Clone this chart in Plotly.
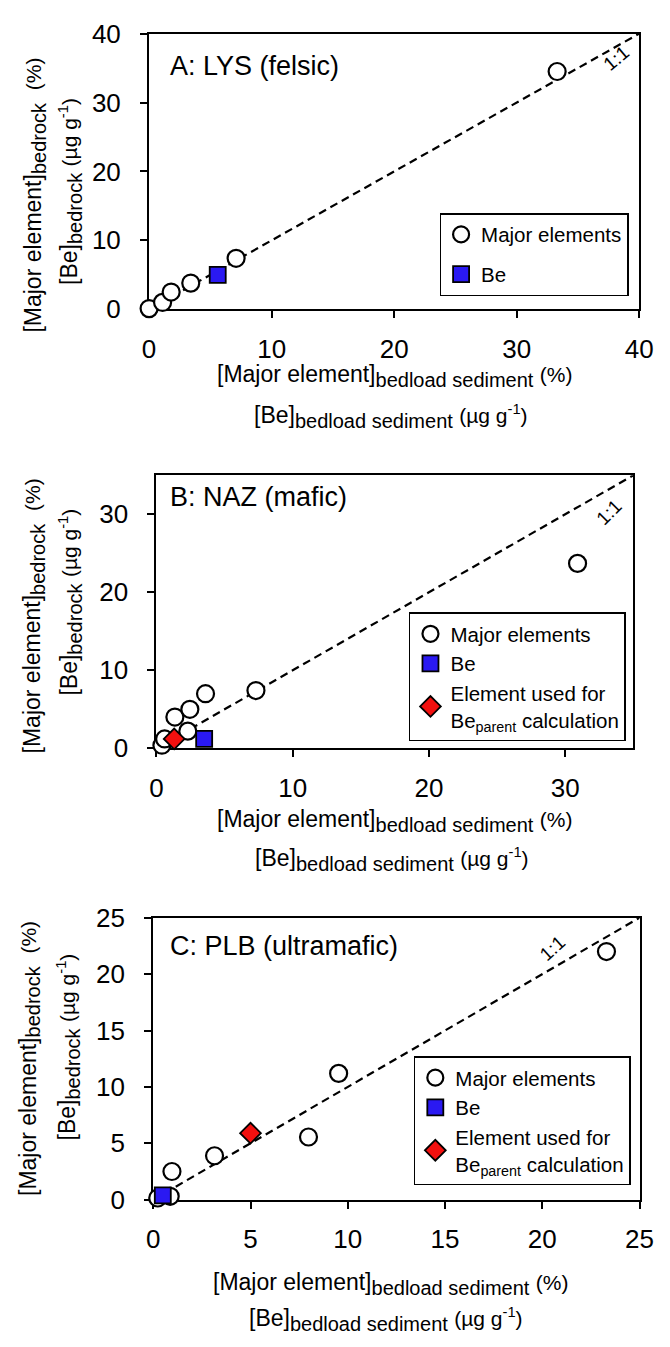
import plotly.graph_objects as go

W, H = 670, 1347
FONT = "Liberation Sans, Arial, sans-serif"

# ---------------- data ----------------
panel_titles = ["A: LYS (felsic)", "B: NAZ (mafic)", "C: PLB (ultramafic)"]

a_major_x = [0.0, 1.1, 1.8, 3.4, 7.1, 33.3]
a_major_y = [0.1, 1.0, 2.5, 3.8, 7.4, 34.5]
a_be_x = [5.6]
a_be_y = [5.0]

b_major_x = [0.4, 0.6, 1.35, 2.45, 2.3, 3.6, 7.3, 30.9]
b_major_y = [0.4, 1.2, 4.0, 5.0, 2.2, 7.0, 7.4, 23.7]
b_be_x = [3.5]
b_be_y = [1.2]
b_parent_x = [1.3]
b_parent_y = [1.2]

c_major_x = [0.23, 0.87, 0.96, 3.15, 7.98, 9.53, 23.3]
c_major_y = [0.15, 0.3, 2.5, 3.9, 5.56, 11.2, 22.0]
c_be_x = [0.49]
c_be_y = [0.38]
c_parent_x = [5.0]
c_parent_y = [5.9]

axis_max = [40, 35, 25]
tick_vals = [[0, 10, 20, 30, 40], [0, 10, 20, 30], [0, 5, 10, 15, 20, 25]]
one_to_one_label = "1:1"
one_to_one_pos = [(38.1, 36.4), (33.2, 30.2), (20.5, 22.3)]

legend_names = ["Major elements", "Be", "Element used for<br>Be<sub>parent</sub> calculation"]

# ---------------- layout helpers (pixel geometry) ----------------
def px(x):
    return x / W

def py(y):
    return 1 - y / H

# plot boxes: (left, right, top, bottom) in pixels
boxes = [(146.7, 652.7, 19, 301), (154.3, 646.7, 470.7, 750), (151, 653, 923.3, 1211.7)]
legend_pos = [(641.7, 287.5), (639, 743), (644, 1197)]
title_pos = [(166, 52), (166, 493), (166, 952)]
xt1_pos = [(400, 369), (400, 824), (396, 1298)]
xt2_pos = [(396, 411), (397, 864), (391, 1334)]
yt1_pos = [(28.6, 184), (28, 615), (23.5, 1067)]
yt2_pos = [(66, 180), (66, 600), (64, 1055)]
ang_1to1 = [-40, -45, -42]

BLUE = "#2a19f2"
RED = "#f2100f"

sub = lambda t: "<sub><span style='font-size:20px'>" + t + "</span></sub>"
xt1 = "[Major element]" + sub("bedload sediment") + " <span style='font-size:21px'>(%)</span>"
xt2 = "[Be]" + sub("bedload sediment") + " <span style='font-size:21px'>(µg g<sup>-1</sup>)</span>"
yt1 = "[Major element]" + sub("bedrock") + "&nbsp; <span style='font-size:21px'>(%)</span>"
yt2 = "[Be]" + sub("bedrock") + " <span style='font-size:21px'>(µg g<sup>-1</sup>)</span>"

fig = go.Figure()

panels = [
    (a_major_x, a_major_y, a_be_x, a_be_y, None, None),
    (b_major_x, b_major_y, b_be_x, b_be_y, b_parent_x, b_parent_y),
    (c_major_x, c_major_y, c_be_x, c_be_y, c_parent_x, c_parent_y),
]

annotations = []
layout = {}
for i, (mx, my, bx, by, dx, dy) in enumerate(panels):
    n = "" if i == 0 else str(i + 1)
    xa, ya = "x" + n, "y" + n
    lg = "legend" + n
    m = axis_max[i]
    # 1:1 line
    fig.add_trace(go.Scatter(x=[0, m], y=[0, m], mode="lines", xaxis=xa, yaxis=ya,
                             line=dict(color="black", width=2.2, dash="8px,5px"),
                             showlegend=False, hoverinfo="skip"))
    fig.add_trace(go.Scatter(x=mx, y=my, mode="markers", name=legend_names[0], xaxis=xa, yaxis=ya,
                             legend=lg, legendgroup="g1" + n, cliponaxis=False,
                             marker=dict(symbol="circle", size=17, color="white",
                                         line=dict(color="black", width=2.2))))
    fig.add_trace(go.Scatter(x=bx, y=by, mode="markers", name=legend_names[1], xaxis=xa, yaxis=ya,
                             legend=lg, legendgroup="g2" + n, cliponaxis=False,
                             marker=dict(symbol="square", size=16, color=BLUE,
                                         line=dict(color="black", width=1.8))))
    if dx is not None:
        fig.add_trace(go.Scatter(x=dx, y=dy, mode="markers", name=legend_names[2], xaxis=xa, yaxis=ya,
                                 legend=lg, legendgroup="g3" + n, cliponaxis=False,
                                 marker=dict(symbol="diamond", size=16, color=RED,
                                             line=dict(color="black", width=1.8))))
    l, r, t, b = boxes[i]
    common = dict(range=[0, m], tickvals=tick_vals[i], showline=True, linecolor="black", linewidth=2.2,
                  mirror=True, ticks="outside", ticklen=7, tickwidth=2, tickcolor="black",
                  showgrid=False, zeroline=False, layer="below traces",
                  tickfont=dict(family=FONT, size=26, color="black"), fixedrange=True)
    layout["xaxis" + n] = dict(common, domain=[px(l), px(r)], anchor=ya, ticklabelstandoff=8)
    layout["yaxis" + n] = dict(common, domain=[py(b), py(t)], anchor=xa, ticklabelstandoff=14)
    lx, ly = legend_pos[i]
    layout[lg] = dict(x=px(lx), y=py(ly), xanchor="right", yanchor="bottom",
                      bordercolor="black", borderwidth=1.5, bgcolor="white",
                      font=dict(family=FONT, size=20.5, color="black"),
                      tracegroupgap=10 if i == 0 else 0)
    tx, ty = title_pos[i]
    annotations.append(dict(text=panel_titles[i], x=px(tx), y=py(ty), xref="paper", yref="paper",
                            xanchor="left", yanchor="middle", showarrow=False,
                            font=dict(family=FONT, size=27, color="black")))
    ox, oy = one_to_one_pos[i]
    annotations.append(dict(text=one_to_one_label, x=ox, y=oy, xref=xa, yref=ya, showarrow=False,
                            textangle=ang_1to1[i], font=dict(family=FONT, size=19, color="black")))
    for (x, y), txt, ang in [(xt1_pos[i], xt1, 0), (xt2_pos[i], xt2, 0),
                             (yt1_pos[i], yt1, -90), (yt2_pos[i], yt2, -90)]:
        annotations.append(dict(text=txt, x=px(x), y=py(y), xref="paper", yref="paper",
                                xanchor="center", yanchor="middle", showarrow=False, textangle=ang,
                                font=dict(family=FONT, size=23, color="black")))

fig.update_layout(**layout)
fig.update_layout(width=W, height=H, margin=dict(l=0, r=0, t=0, b=0),
                  paper_bgcolor="white", plot_bgcolor="white",
                  font=dict(family=FONT, color="black"),
                  annotations=annotations, showlegend=True)

fig.write_html("out.html")
